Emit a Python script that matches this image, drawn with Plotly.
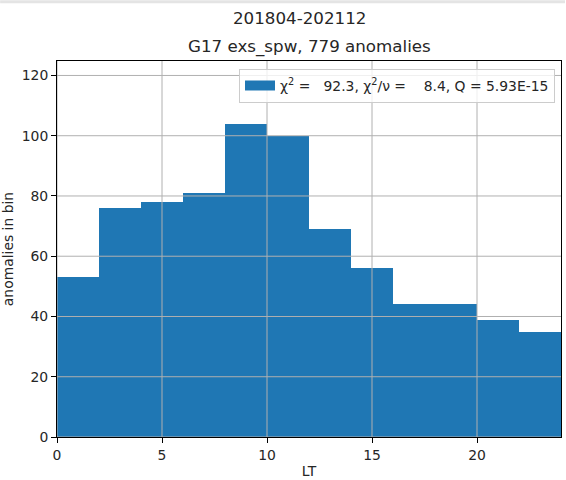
import plotly.graph_objects as go

# Data
bin_left = [0, 2, 4, 6, 8, 10, 12, 14, 16, 18, 20, 22]
counts = [53, 76, 78, 81, 104, 100, 69, 56, 44, 44, 39, 35]
bin_width = 2
x_ticks = [0, 5, 10, 15, 20]
y_ticks = [0, 20, 40, 60, 80, 100, 120]
legend_label = ("χ<sup>2</sup> =\u00a0\u00a0\u00a092.3, χ<sup>2</sup>/ν =\u00a0\u00a0\u00a0\u00a08.4, "
                "Q = 5.93E-15")
suptitle = "201804-202112"
subtitle = "G17 exs_spw, 779 anomalies"

FONT = "DejaVu Sans"
BLUE = "#1f77b4"
W, H = 566, 480
L, R, T, B = 57, 4, 61, 41
pw, ph = W - L - R, H - T - B

def px_x(px):
    return (px - L) / pw

def px_y(py):
    return (H - B - py) / ph

fig = go.Figure()
fig.add_trace(go.Bar(
    x=bin_left, y=counts, width=[bin_width] * len(counts), offset=0,
    marker=dict(color=BLUE, line=dict(width=0)),
    name=legend_label, showlegend=False,
))
# legend entry drawn as a wide patch
fig.add_trace(go.Scatter(
    x=[None], y=[None], mode="lines", line=dict(color=BLUE, width=10),
    name=legend_label, showlegend=True,
))

shapes = []
for xt in x_ticks:
    shapes.append(dict(type="line", xref="x", yref="paper", x0=xt, x1=xt, y0=0, y1=1,
                       line=dict(color="#b0b0b0", width=1), layer="above"))
for yt in y_ticks:
    shapes.append(dict(type="line", xref="paper", yref="y", x0=0, x1=1, y0=yt, y1=yt,
                       line=dict(color="#b0b0b0", width=1), layer="above"))
# light strip at top of image
shapes.append(dict(type="rect", xref="paper", yref="paper", x0=px_x(0), x1=px_x(W),
                   y0=px_y(3), y1=px_y(0), fillcolor="#e4e4e4", line=dict(width=0),
                   layer="above"))

axis_common = dict(showgrid=False, zeroline=False, showline=True, mirror=True,
                   linecolor="black", linewidth=1, ticks="outside", ticklen=5,
                   tickwidth=1, tickcolor="black",
                   tickfont=dict(family=FONT, size=13.9, color="#262626"))

fig.update_layout(
    width=W, height=H,
    margin=dict(l=L, r=R, t=T, b=B, pad=0),
    paper_bgcolor="white", plot_bgcolor="white",
    font=dict(family=FONT, size=13.9, color="#262626"),
    shapes=shapes,
    bargap=0,
    xaxis=dict(range=[0, 24], tickvals=x_ticks, ticktext=[str(v) for v in x_ticks],
               title=dict(text="LT", font=dict(family=FONT, size=13.9), standoff=4),
               **axis_common),
    yaxis=dict(range=[0, 124.8], tickvals=y_ticks, ticktext=[str(v) for v in y_ticks],
               title=dict(text="anomalies in bin", font=dict(family=FONT, size=13.9), standoff=8),
               **axis_common),
    legend=dict(x=px_x(556), y=px_y(69), xanchor="right", yanchor="top",
                bgcolor="rgba(255,255,255,0.8)", bordercolor="#cccccc", borderwidth=1,
                font=dict(family=FONT, size=13.9, color="#262626")),
    showlegend=True,
    annotations=[
        dict(text=suptitle, xref="paper", yref="paper", x=px_x(300), y=px_y(18),
             xanchor="center", yanchor="middle", showarrow=False,
             font=dict(family=FONT, size=16.7, color="#262626")),
        dict(text=subtitle, xref="paper", yref="paper", x=px_x(310), y=px_y(46),
             xanchor="center", yanchor="middle", showarrow=False,
             font=dict(family=FONT, size=16.7, color="#262626")),
    ],
)

fig.write_html("out.html", config={"displayModeBar": False},
               post_script="document.body.style.margin='0';")
